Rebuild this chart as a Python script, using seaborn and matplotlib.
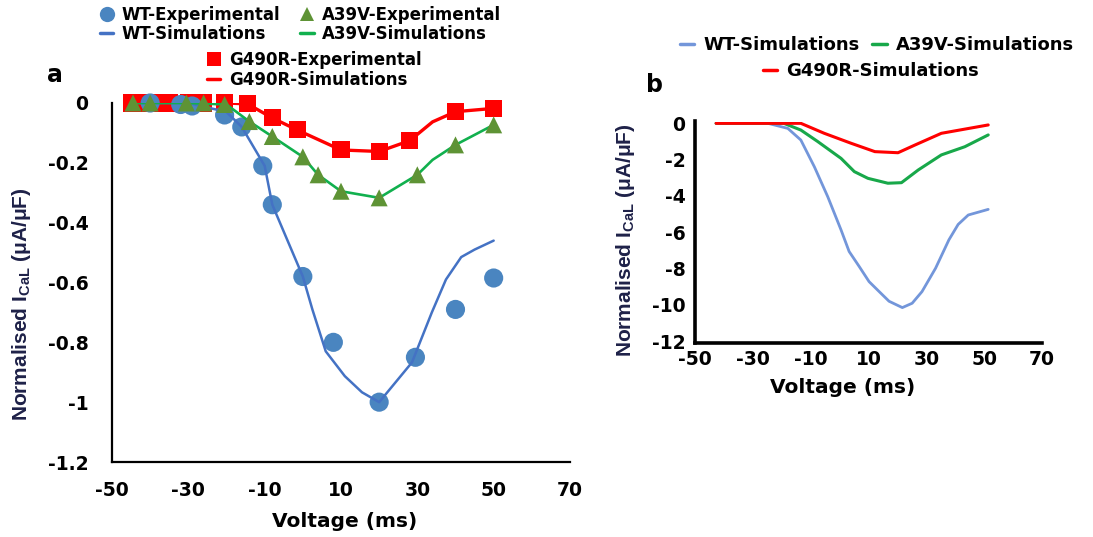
import numpy as np
import pandas as pd
import matplotlib
matplotlib.use("Agg")
import matplotlib.pyplot as plt
from matplotlib.ticker import FuncFormatter
from matplotlib.lines import Line2D
import seaborn as sns

# ---------------- data ----------------
# Panel a: experimental points
wt_exp_v = [-40, -32, -29, -20.5, -16, -10.5, -8, 0, 8, 20, 29.5, 40, 50]
wt_exp_i = [0.0, -0.005, -0.01, -0.04, -0.08, -0.21, -0.34, -0.58, -0.80, -1.0, -0.85, -0.69, -0.585]

a39v_exp_v = [-44.5, -40, -30.5, -26, -20.5, -14, -8, 0, 4, 10, 20, 30, 40, 50]
a39v_exp_i = [0.0, 0.0, 0.0, 0.0, -0.005, -0.062, -0.112, -0.18, -0.24, -0.295, -0.317, -0.24, -0.14, -0.073]

g490r_exp_v = [-45, -42, -38.5, -35, -30, -26, -20.5, -14.5, -8, -1.5, 10, 20, 28, 40, 50]
g490r_exp_i = [0.0, 0.0, 0.0, 0.0, 0.0, 0.0, 0.0, -0.003, -0.05, -0.09, -0.157, -0.162, -0.126, -0.029, -0.018]

# Panel a: simulations
wt_sim_v = [-45, -30, -20, -16, -10, -8, -2, 0, 2.5, 6, 11, 15.5, 20, 28.6, 33.8, 37.5, 41.5, 45, 50]
wt_sim_i = [0.0, 0.0, -0.03, -0.08, -0.21, -0.34, -0.52, -0.58, -0.69, -0.83, -0.913, -0.967, -1.0,
            -0.867, -0.70, -0.59, -0.515, -0.49, -0.46]

a39v_sim_v = [-45, -30, -20, -14, -8, 0, 4, 10, 20, 30, 34, 40, 50]
a39v_sim_i = [0.0, 0.0, -0.005, -0.062, -0.112, -0.18, -0.24, -0.295, -0.317, -0.24, -0.19, -0.14, -0.073]

g490r_sim_v = [-45, -30, -20, -14.5, -8, -1.5, 10, 20, 28, 34, 40, 50]
g490r_sim_i = [0.0, 0.0, 0.0, -0.003, -0.05, -0.09, -0.157, -0.162, -0.126, -0.063, -0.029, -0.018]

# Panel b: simulations
b_wt_v = [-42.7, -30, -24.8, -17.9, -13.4, -8.7, -4.1, 0.5, 3.3, 6.8, 10.2, 13.7, 17.1, 21.7,
          25.1, 28.5, 33.2, 37.8, 41, 44.5, 51.4]
b_wt_i = [0.0, 0.0, 0.0, -0.28, -0.92, -2.4, -4.04, -5.87, -7.06, -7.89, -8.72, -9.27, -9.8, -10.15,
          -9.91, -9.27, -7.98, -6.42, -5.57, -5.05, -4.74]

b_a39v_v = [-42.7, -30, -19.3, -13.4, -7.6, 0.5, 5.1, 9.8, 16.7, 21.4, 27.2, 35.2, 43.3, 51.4]
b_a39v_i = [0.0, 0.0, 0.0, -0.37, -1.0, -1.93, -2.66, -3.03, -3.3, -3.27, -2.57, -1.74, -1.29, -0.64]

b_g490r_v = [-42.7, -30, -13.4, -5.3, 4.0, 12.2, 20.2, 26, 35.2, 51.4]
b_g490r_i = [0.0, 0.0, 0.0, -0.55, -1.1, -1.56, -1.62, -1.2, -0.55, -0.09]

x_ticks = [-50, -30, -10, 10, 30, 50, 70]
a_y_ticks = [0, -0.2, -0.4, -0.6, -0.8, -1, -1.2]
b_y_ticks = [0, -2, -4, -6, -8, -10, -12]

# ---------------- style ----------------
sns.set_theme(style="white")
plt.rcParams["font.family"] = ["DejaVu Sans"]
plt.rcParams["axes.unicode_minus"] = False
plt.rcParams["text.color"] = "black"
plt.rcParams["axes.labelcolor"] = "black"

C_BLUE_M = "#4A85C0"
C_BLUE_L = "#4472C4"
C_GREEN_M = "#5E9335"
C_GREEN_L = "#11B04E"
C_RED = "#FF0000"
C_BLUE_B = "#7396DA"
C_GREEN_B = "#18A84A"
LABEL_COLOR = "#1E2148"

W, H = 1093, 537
fig = plt.figure(figsize=(W / 100, H / 100), dpi=100)


def fax(l, r, t, b):
    return [l / W, 1 - b / H, (r - l) / W, (b - t) / H]


ax_a = fig.add_axes(fax(112, 570, 103, 462))
ax_b = fig.add_axes(fax(695, 1042, 121.5, 343))

fmt = FuncFormatter(lambda v, p: f"{v:g}")
YLABEL = r"Normalised I$_{\mathregular{CaL}}$ (μA/μF)"

# ---- panel a ----
sns.scatterplot(x=g490r_exp_v, y=g490r_exp_i, ax=ax_a, marker="s", s=150,
                color=C_RED, edgecolor="none", clip_on=False, zorder=2, legend=False)
sns.lineplot(x=g490r_sim_v, y=g490r_sim_i, ax=ax_a, color=C_RED, linewidth=2.4,
             estimator=None, sort=False, zorder=3)
sns.scatterplot(x=wt_exp_v, y=wt_exp_i, ax=ax_a, marker="o", s=190,
                color=C_BLUE_M, edgecolor="none", clip_on=False, zorder=4, legend=False)
sns.lineplot(x=wt_sim_v, y=wt_sim_i, ax=ax_a, color=C_BLUE_L, linewidth=1.8,
             estimator=None, sort=False, zorder=5)
sns.scatterplot(x=a39v_exp_v, y=a39v_exp_i, ax=ax_a, marker="^", s=150,
                color=C_GREEN_M, edgecolor="none", clip_on=False, zorder=7, legend=False)
sns.lineplot(x=a39v_sim_v, y=a39v_sim_i, ax=ax_a, color=C_GREEN_L, linewidth=1.9,
             estimator=None, sort=False, zorder=6)

ax_a.set_xlim(-50, 70)
ax_a.set_ylim(-1.2, 0)
ax_a.set_xticks(x_ticks)
ax_a.set_yticks(a_y_ticks)
ax_a.yaxis.set_major_formatter(fmt)
ax_a.xaxis.set_major_formatter(fmt)
ax_a.tick_params(axis="both", length=0, labelsize=13.5, colors="black")
ax_a.tick_params(axis="y", pad=17)
ax_a.tick_params(axis="x", pad=14)
for lab in ax_a.get_xticklabels() + ax_a.get_yticklabels():
    lab.set_fontweight("bold")
for side in ["top", "right"]:
    ax_a.spines[side].set_visible(False)
for side in ["left", "bottom"]:
    ax_a.spines[side].set_color("black")
    ax_a.spines[side].set_linewidth(1.6)
ax_a.set_xlabel("Voltage (ms)", fontsize=14.5, fontweight="bold", color="black")
ax_a.xaxis.set_label_coords(0.509, -0.139)
ax_a.set_ylabel(YLABEL, fontsize=15, color=LABEL_COLOR, family="Liberation Sans",
                fontweight="bold")
ax_a.yaxis.set_label_coords(-0.172, 0.44)

# ---- panel b ----
sns.lineplot(x=b_wt_v, y=b_wt_i, ax=ax_b, color=C_BLUE_B, linewidth=2.0,
             estimator=None, sort=False)
sns.lineplot(x=b_a39v_v, y=b_a39v_i, ax=ax_b, color=C_GREEN_B, linewidth=2.2,
             estimator=None, sort=False)
sns.lineplot(x=b_g490r_v, y=b_g490r_i, ax=ax_b, color=C_RED, linewidth=2.2,
             estimator=None, sort=False)
ax_b.set_xlim(-50, 70)
ax_b.set_ylim(-12.1, 0.1)
ax_b.set_xticks(x_ticks)
ax_b.set_yticks(b_y_ticks)
ax_b.yaxis.set_major_formatter(fmt)
ax_b.xaxis.set_major_formatter(fmt)
ax_b.tick_params(axis="both", length=0, labelsize=13.5, colors="black")
ax_b.tick_params(axis="y", pad=7)
ax_b.tick_params(axis="x", pad=5)
for lab in ax_b.get_xticklabels() + ax_b.get_yticklabels():
    lab.set_fontweight("bold")
for side in ["top", "right"]:
    ax_b.spines[side].set_visible(False)
for side in ["left", "bottom"]:
    ax_b.spines[side].set_color("black")
    ax_b.spines[side].set_linewidth(2.6)
ax_b.set_xlabel("Voltage (ms)", fontsize=14.5, fontweight="bold", color="black")
ax_b.xaxis.set_label_coords(0.425, -0.158)
ax_b.set_ylabel(YLABEL, fontsize=15, color=LABEL_COLOR, family="Liberation Sans",
                fontweight="bold")
ax_b.yaxis.set_label_coords(-0.167, 0.465)

# ---- legends ----
def mk(marker, color, ms):
    return Line2D([], [], marker=marker, color=color, linestyle="none", markersize=ms,
                  markeredgewidth=0)


def ln(color):
    return Line2D([], [], color=color, linewidth=2.5)


leg_kw = dict(frameon=False, handlelength=0.8, handletextpad=0.5,
              prop={"weight": "bold", "size": 12}, borderpad=0, borderaxespad=0,
              labelcolor="black")

fig.legend(handles=[mk("o", C_BLUE_M, 11), ln(C_BLUE_L), mk("^", C_GREEN_M, 10), ln(C_GREEN_L)],
           labels=["WT-Experimental", "WT-Simulations", "A39V-Experimental", "A39V-Simulations"],
           ncol=2, loc="upper left", bbox_to_anchor=(100 / W, 1 - 6 / H),
           labelspacing=0.05, columnspacing=1.2, **leg_kw)
fig.legend(handles=[mk("s", C_RED, 10), ln(C_RED)],
           labels=["G490R-Experimental", "G490R-Simulations"],
           ncol=1, loc="upper left", bbox_to_anchor=(207 / W, 1 - 51 / H),
           labelspacing=0.1, **leg_kw)
lb_kw = dict(leg_kw)
lb_kw["prop"] = {"weight": "bold", "size": 13}
fig.legend(handles=[ln(C_BLUE_B), ln(C_GREEN_B)],
           labels=["WT-Simulations", "A39V-Simulations"],
           ncol=2, loc="upper left", bbox_to_anchor=(680 / W, 1 - 36 / H),
           columnspacing=0.7, **lb_kw)
fig.legend(handles=[ln(C_RED)], labels=["G490R-Simulations"],
           loc="upper left", bbox_to_anchor=(763 / W, 1 - 62 / H), **lb_kw)

fig.text(55 / W, 1 - 75 / H, "a", fontsize=17, fontweight="bold", ha="center", va="center",
         color="black")
fig.text(655 / W, 1 - 85 / H, "b", fontsize=17, fontweight="bold", ha="center", va="center",
         color="black")

fig.savefig("out.png", dpi=100, facecolor="white")
